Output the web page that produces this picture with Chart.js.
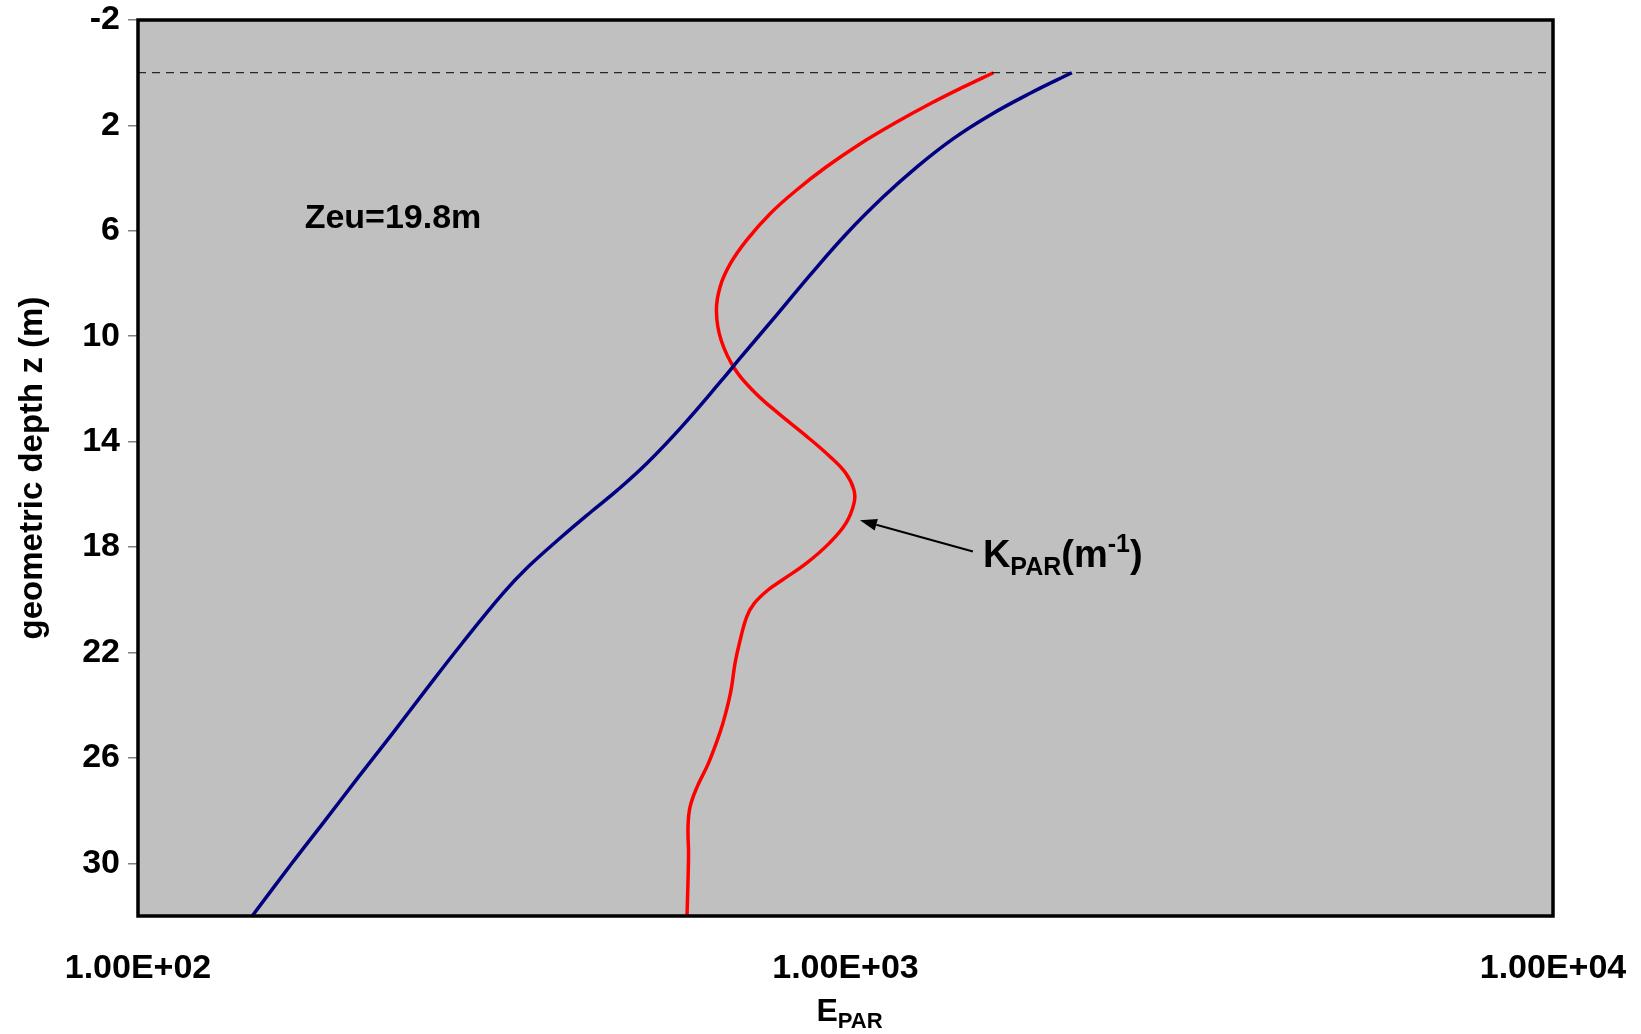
<!DOCTYPE html>
<html>
<head>
<meta charset="utf-8">
<script src="https://cdn.jsdelivr.net/npm/chart.js@4.4.0/dist/chart.umd.min.js"></script>
<style>
  html, body { margin: 0; padding: 0; background: #fff; }
  canvas { display: block; }
</style>
</head>
<body>
<canvas id="parChart" width="1641" height="1034"></canvas>
<script>
// E_PAR profile (blue) against geometric depth
const blueDepth = [0, 0.78, 1.61, 2.49, 3.57, 4.71, 6.1, 7.68, 9.2, 10.84, 11.66, 13.43, 14.82, 15.84, 16.66, 17.61, 18.75, 19.76, 21.66, 23.43, 25.07, 26.72, 28.36, 30, 32];
const blueE = [2089, 1824, 1600, 1422, 1262, 1131, 1004, 891, 799, 709, 669, 587, 524, 476, 437, 397, 356, 328, 287, 255, 229, 205, 184, 165, 145];

// K_PAR profile (red), same axes
const redDepth = [0, 0.53, 1.16, 1.92, 2.74, 3.57, 4.45, 5.34, 6.35, 7.23, 8.12, 9.05, 10.14, 11.28, 12.17, 12.93, 13.75, 14.57, 15.2, 15.84, 16.34, 17.1, 17.86, 18.62, 19.25, 19.63, 20.14, 20.65, 21.65, 22.41, 23.43, 24.31, 25.07, 26.21, 27.1, 27.86, 28.61, 29.62, 30.64, 32];
const redE = [1618, 1471, 1321, 1173, 1043, 940, 853, 783, 725, 688, 665, 657, 667, 699, 747, 804, 877, 951, 1001, 1028, 1028, 1001, 948, 880, 814, 777, 743, 725, 708, 698, 689, 677, 664, 640, 617, 603, 599, 600, 599, 597];

// sea surface reference line
const surfaceDepth = [0, 0];
const surfaceE = [100, 10000];

const xTicks = [100, 1000, 10000];
const xTickLabels = ['1.00E+02', '1.00E+03', '1.00E+04'];
const yTicks = [-2, 2, 6, 10, 14, 18, 22, 26, 30];

const FONT = '"Liberation Sans", Arial, sans-serif';
const toPoints = (xs, ys) => ys.map((y, i) => ({ x: xs[i], y: y }));

// draws a run of text pieces (for sub/superscripts), left or centred
function drawParts(ctx, parts, x, y, align) {
    let total = 0;
    parts.forEach(p => {
        ctx.font = `bold ${p.size}px ${FONT}`;
        p.w = ctx.measureText(p.text).width;
        total += p.w;
    });
    let cx = align === 'center' ? x - total / 2 : x;
    parts.forEach(p => {
        ctx.font = `bold ${p.size}px ${FONT}`;
        ctx.fillText(p.text, cx, y + (p.dy || 0));
        cx += p.w;
    });
}

const plotDecor = {
    id: 'plotDecor',
    beforeDatasetsDraw(chart) {
        const { ctx, chartArea: a } = chart;
        ctx.save();
        ctx.fillStyle = '#c0c0c0';
        ctx.fillRect(a.left, a.top, a.right - a.left, a.bottom - a.top);
        ctx.restore();
    },
    afterDatasetsDraw(chart) {
        const { ctx, chartArea: a } = chart;
        ctx.save();
        ctx.strokeStyle = '#000';
        ctx.lineWidth = 3.5;
        ctx.strokeRect(a.left, a.top, a.right - a.left, a.bottom - a.top);
        ctx.restore();
    },
    afterDraw(chart) {
        const { ctx, chartArea: a } = chart;
        const xs = chart.scales.x, ys = chart.scales.y;
        ctx.save();
        ctx.fillStyle = '#000';
        ctx.textBaseline = 'alphabetic';
        ctx.textAlign = 'left';

        // euphotic depth note
        ctx.font = `bold 34px ${FONT}`;
        ctx.fillText('Zeu=19.8m', xs.getPixelForValue(172), ys.getPixelForValue(5.9));

        // arrow to the K_PAR curve
        const tx = xs.getPixelForValue(1048), ty = ys.getPixelForValue(16.98);
        const sx = xs.getPixelForValue(1514), sy = ys.getPixelForValue(18.17);
        const ang = Math.atan2(ty - sy, tx - sx);
        const head = 17, half = 6;
        const bx = tx - head * Math.cos(ang), by = ty - head * Math.sin(ang);
        ctx.strokeStyle = '#000';
        ctx.lineWidth = 2;
        ctx.beginPath();
        ctx.moveTo(sx, sy);
        ctx.lineTo(bx, by);
        ctx.stroke();
        ctx.beginPath();
        ctx.moveTo(tx, ty);
        ctx.lineTo(bx + half * Math.sin(ang), by - half * Math.cos(ang));
        ctx.lineTo(bx - half * Math.sin(ang), by + half * Math.cos(ang));
        ctx.closePath();
        ctx.fill();

        drawParts(ctx, [
            { text: 'K', size: 38 },
            { text: 'PAR', size: 25, dy: 8 },
            { text: '(m', size: 38 },
            { text: '-1', size: 25, dy: -15 },
            { text: ')', size: 38 }
        ], xs.getPixelForValue(1564), ys.getPixelForValue(18.76), 'left');

        // x axis title
        drawParts(ctx, [
            { text: 'E', size: 32 },
            { text: 'PAR', size: 22, dy: 7 }
        ], (a.left + a.right) / 2 + 4, 1021, 'center');
        ctx.restore();
    }
};

new Chart(document.getElementById('parChart'), {
    type: 'line',
    data: {
        datasets: [
            {
                label: 'surface',
                data: toPoints(surfaceE, surfaceDepth),
                borderColor: '#000',
                borderWidth: 1,
                borderDash: [8, 6],
                pointRadius: 0,
                tension: 0
            },
            {
                label: 'E_PAR',
                data: toPoints(blueE, blueDepth),
                borderColor: '#000080',
                borderWidth: 3.5,
                pointRadius: 0,
                tension: 0.4,
                fill: false
            },
            {
                label: 'K_PAR',
                data: toPoints(redE, redDepth),
                borderColor: '#ff0000',
                borderWidth: 3.5,
                pointRadius: 0,
                tension: 0.4,
                fill: false
            }
        ]
    },
    options: {
        responsive: false,
        devicePixelRatio: 1,
        animation: false,
        layout: { padding: { top: 20, right: 88, bottom: 0, left: 0 } },
        plugins: { legend: { display: false }, tooltip: { enabled: false } },
        scales: {
            x: {
                type: 'logarithmic',
                min: 100,
                max: 10000,
                afterBuildTicks: s => { s.ticks = xTicks.map(v => ({ value: v })); },
                afterFit: s => {
                    s.height = 118;
                    s.paddingLeft = 0;
                    s.paddingRight = 0;
                },
                grid: { display: false },
                border: { display: false },
                ticks: {
                    autoSkip: false,
                    maxRotation: 0,
                    padding: 24,
                    color: '#000',
                    font: { family: FONT, size: 34, weight: 'bold' },
                    callback: (v, i) => xTickLabels[i]
                }
            },
            y: {
                type: 'linear',
                reverse: true,
                min: -2,
                max: 32,
                afterBuildTicks: s => { s.ticks = yTicks.map(v => ({ value: v })); },
                afterFit: s => {
                    s.width = 138;
                    s.paddingTop = 0;
                    s.paddingBottom = 0;
                },
                grid: { drawOnChartArea: false, drawTicks: true, tickLength: 10, color: '#808080', lineWidth: 1.5 },
                border: { display: false },
                ticks: {
                    autoSkip: false,
                    padding: 8,
                    color: '#000',
                    font: { family: FONT, size: 34, weight: 'bold' },
                    callback: v => String(v)
                },
                title: {
                    display: true,
                    text: 'geometric depth z (m)',
                    color: '#000',
                    padding: { top: 13, bottom: 0 },
                    font: { family: FONT, size: 33, weight: 'bold' }
                }
            }
        }
    },
    plugins: [plotDecor]
});
</script>
</body>
</html>
